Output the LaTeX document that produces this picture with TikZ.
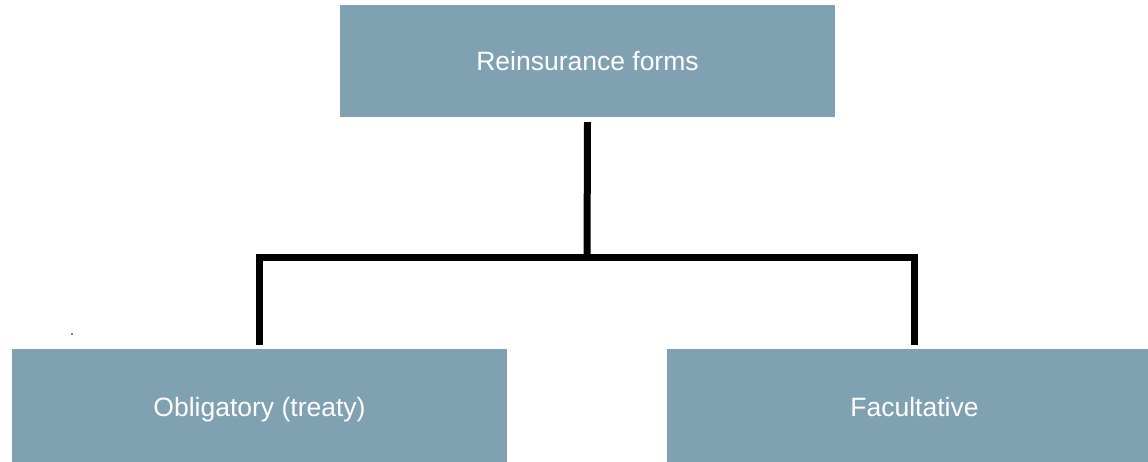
\documentclass[tikz,border=0pt]{standalone}
\usepackage{fontspec}
\setmainfont{Liberation Sans}
\definecolor{boxblue}{RGB}{127,161,178}
\begin{document}
\begin{tikzpicture}[x=1pt,y=-1pt,
  formbox/.style={fill=boxblue,draw=none,inner sep=0pt,minimum width=495pt,minimum height=112pt,
    text height=19pt,text depth=0pt,
    text=white,font=\fontsize{26.5}{30}\selectfont},
  lowbox/.style={formbox,minimum height=115pt},
  conn/.style={draw=black,line width=7pt,line join=miter}]
\clip (0,0) rectangle (1148,461);
\useasboundingbox (0,0) rectangle (1148,461);
\node[formbox] (top) at (587.5,61) {Reinsurance forms};
\node[lowbox] (obl) at (259.5,406.5) {Obligatory (treaty)};
\node[lowbox] (fac) at (914.5,406.5) {Facultative};
\coordinate (j) at (587,257);
\draw[conn] ([yshift=-5pt]top.south) -- ([yshift=-3.5pt]j);
\draw[conn] ([yshift=4pt]obl.north) |- (j) -| ([yshift=4pt]fac.north);
\fill[gray] (71,333) rectangle (73,335);
\end{tikzpicture}
\end{document}
